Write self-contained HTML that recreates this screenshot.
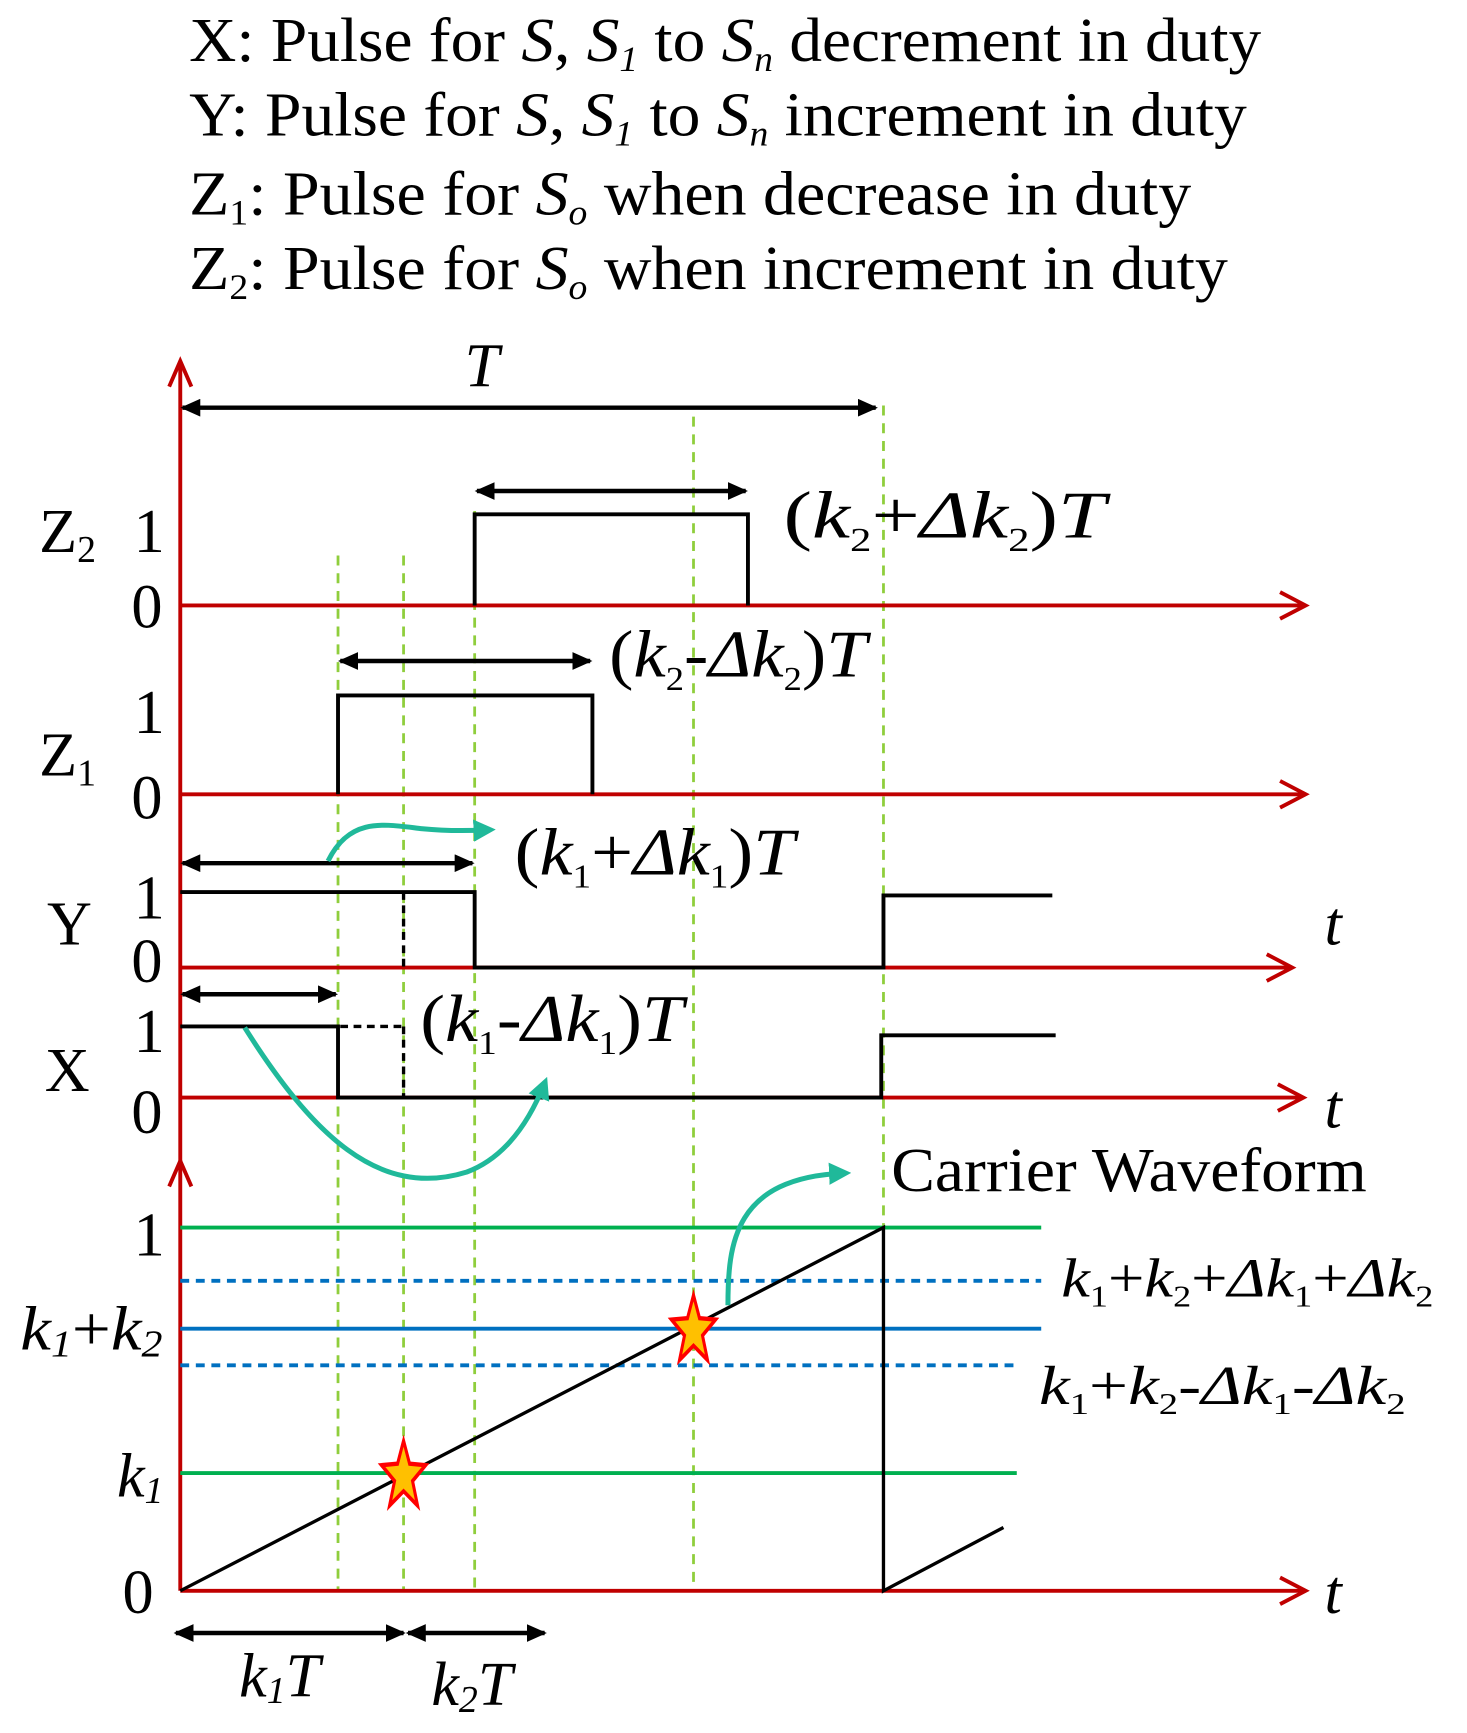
<!DOCTYPE html>
<html><head><meta charset="utf-8"><style>html,body{margin:0;padding:0;background:#fff}svg{display:block}text{font-family:"Liberation Serif",serif;fill:#000}</style></head><body>
<svg width="1467" height="1733" viewBox="0 0 1320 1560" xmlns="http://www.w3.org/2000/svg">
<defs>
<marker id="ab" markerWidth="18" markerHeight="16" refX="16" refY="8" orient="auto-start-reverse" markerUnits="userSpaceOnUse" viewBox="0 0 18 16"><path d="M0,0 L18,8 L0,16 Z" fill="#000"/></marker>
<marker id="at" markerWidth="20" markerHeight="20" refX="14" refY="10" orient="auto" markerUnits="userSpaceOnUse" viewBox="0 0 20 20"><path d="M0,0 L20,10 L0,20 Z" fill="#20b99a"/></marker>
</defs>
<g font-size="56" lengthAdjust="spacingAndGlyphs">
<text x="170" y="55" textLength="965" lengthAdjust="spacingAndGlyphs">X: Pulse for <tspan font-style="italic">S</tspan>, <tspan font-style="italic">S<tspan font-size="32" dy="9">1</tspan></tspan><tspan dy="-9"> to </tspan><tspan font-style="italic">S<tspan font-size="32" dy="9">n</tspan></tspan><tspan dy="-9"> decrement in duty</tspan></text>
<text x="170" y="122" textLength="952" lengthAdjust="spacingAndGlyphs">Y: Pulse for <tspan font-style="italic">S</tspan>, <tspan font-style="italic">S<tspan font-size="32" dy="9">1</tspan></tspan><tspan dy="-9"> to </tspan><tspan font-style="italic">S<tspan font-size="32" dy="9">n</tspan></tspan><tspan dy="-9"> increment in duty</tspan></text>
<text x="170" y="193" textLength="902" lengthAdjust="spacingAndGlyphs">Z<tspan font-size="32" dy="9">1</tspan><tspan dy="-9">: Pulse for </tspan><tspan font-style="italic">S<tspan font-size="32" dy="9">o</tspan></tspan><tspan dy="-9"> when decrease in duty</tspan></text>
<text x="170" y="260" textLength="935" lengthAdjust="spacingAndGlyphs">Z<tspan font-size="32" dy="9">2</tspan><tspan dy="-9">: Pulse for </tspan><tspan font-style="italic">S<tspan font-size="32" dy="9">o</tspan></tspan><tspan dy="-9"> when increment in duty</tspan></text>
</g>
<g stroke="#8fce3c" stroke-width="2.5" stroke-dasharray="9,7">
<line x1="304" y1="500" x2="304" y2="1432"/><line x1="363" y1="500" x2="363" y2="1432"/>
<line x1="427" y1="460" x2="427" y2="1432"/><line x1="624" y1="375" x2="624" y2="1432"/>
<line x1="795" y1="365" x2="795" y2="1432"/>
</g>
<g stroke="#c00000" stroke-width="3.5" fill="none">
<line x1="162" y1="327" x2="162" y2="1432"/>
<path d="M152,348 L162,325 L172,348"/><path d="M152,1068 L162,1045 L172,1068"/>
<line x1="162" y1="545" x2="1175" y2="545"/><path d="M1152,533 L1175,545 L1152,557"/>
<line x1="162" y1="715" x2="1175" y2="715"/><path d="M1152,703 L1175,715 L1152,727"/>
<line x1="162" y1="871" x2="1163" y2="871"/><path d="M1140,859 L1163,871 L1140,883"/>
<line x1="162" y1="988" x2="1173" y2="988"/><path d="M1150,976 L1173,988 L1150,1000"/>
<line x1="162" y1="1432" x2="1175" y2="1432"/><path d="M1152,1420 L1175,1432 L1152,1444"/>
</g>
<g stroke="#000" stroke-width="4" marker-start="url(#ab)" marker-end="url(#ab)">
<line x1="164" y1="367" x2="788" y2="367"/>
<line x1="429" y1="442" x2="671" y2="442"/>
<line x1="306" y1="595" x2="531" y2="595"/>
<line x1="164" y1="777" x2="425" y2="777"/>
<line x1="164" y1="895" x2="302" y2="895"/>
<line x1="158" y1="1470" x2="363" y2="1470"/>
<line x1="367" y1="1470" x2="490" y2="1470"/>
</g>
<g stroke="#000" stroke-width="3.5" fill="none">
<path d="M427,545 V463 H673 V545"/>
<path d="M304,715 V626 H533 V715"/>
<path d="M162,803 H427 V871 H795 V806 H947"/>
<path d="M162,924 H304 V988 H793 V932 H950"/>
</g>
<g stroke="#000" stroke-width="3" stroke-dasharray="7,5">
<line x1="363" y1="803" x2="363" y2="871"/><line x1="363" y1="924" x2="363" y2="988"/>
<line x1="306" y1="924" x2="363" y2="924"/>
</g>
<g stroke-width="3.5">
<line x1="162" y1="1105" x2="937" y2="1105" stroke="#00b050"/>
<line x1="162" y1="1326" x2="915" y2="1326" stroke="#00b050"/>
<line x1="162" y1="1196" x2="937" y2="1196" stroke="#0070c0"/>
<line x1="162" y1="1153" x2="937" y2="1153" stroke="#0070c0" stroke-dasharray="8,6"/>
<line x1="162" y1="1229" x2="915" y2="1229" stroke="#0070c0" stroke-dasharray="8,6"/>
</g>
<g stroke="#000" stroke-width="3" fill="none">
<path d="M162,1432 L795,1105 V1432 L903,1375"/>
</g>
<g fill="#ffc000" stroke="#ff0000" stroke-width="3">
<path transform="translate(363,1328) scale(0.9,1.3)" d="M0,-24 L6,-8 L22,-7 L9,4 L14,21 L0,11 L-14,21 L-9,4 L-22,-7 L-6,-8 Z"/>
<path transform="translate(624,1197) scale(0.9,1.3)" d="M0,-24 L6,-8 L22,-7 L9,4 L14,21 L0,11 L-14,21 L-9,4 L-22,-7 L-6,-8 Z"/>
</g>
<g stroke="#20b99a" stroke-width="4.5" fill="none" marker-end="url(#at)">
<path d="M295,775 C315,735 345,742 380,746 C400,748 420,748 440,747"/>
<path d="M220,925 C280,1020 340,1080 420,1055 C460,1040 480,1000 490,975"/>
<path d="M655,1175 C655,1120 660,1060 760,1056"/>
</g>
<g font-size="56">
<text x="35" y="497">Z<tspan font-size="34" dy="9">2</tspan></text>
<text x="35" y="698">Z<tspan font-size="34" dy="9">1</tspan></text>
<text x="42" y="850">Y</text>
<text x="40" y="982">X</text>
<text x="120" y="497">1</text><text x="118" y="565">0</text>
<text x="120" y="660">1</text><text x="118" y="737">0</text>
<text x="120" y="827">1</text><text x="118" y="884">0</text>
<text x="120" y="947">1</text><text x="118" y="1020">0</text>
<text x="120" y="1130">1</text><text x="110" y="1452">0</text>
<text x="1192" y="850" font-style="italic">t</text>
<text x="1192" y="1015" font-style="italic">t</text>
<text x="1192" y="1452" font-style="italic">t</text>
<text x="418" y="348" font-style="italic">T</text>
<text x="18" y="1215" font-style="italic" textLength="128" lengthAdjust="spacingAndGlyphs">k<tspan font-size="34" dy="6">1</tspan><tspan dy="-6" font-style="normal">+</tspan>k<tspan font-size="34" dy="6">2</tspan></text>
<text x="105" y="1347" font-style="italic">k<tspan font-size="34" dy="6">1</tspan></text>
<text x="215" y="1527" font-style="italic">k<tspan font-size="34" dy="6">1</tspan><tspan dy="-6">T</tspan></text>
<text x="388" y="1535" font-style="italic">k<tspan font-size="34" dy="6">2</tspan><tspan dy="-6">T</tspan></text>
<text x="802" y="1072" textLength="428" lengthAdjust="spacingAndGlyphs">Carrier Waveform</text>
</g>
<g font-size="60">
<text x="705" y="484" textLength="290" lengthAdjust="spacingAndGlyphs">(<tspan font-style="italic">k</tspan><tspan font-size="30" dy="12">2</tspan><tspan dy="-12">+</tspan><tspan font-style="italic">Δk</tspan><tspan font-size="30" dy="12">2</tspan><tspan dy="-12">)</tspan><tspan font-style="italic">T</tspan></text>
<text x="548" y="609" textLength="232" lengthAdjust="spacingAndGlyphs">(<tspan font-style="italic">k</tspan><tspan font-size="30" dy="12">2</tspan><tspan dy="-12">-</tspan><tspan font-style="italic">Δk</tspan><tspan font-size="30" dy="12">2</tspan><tspan dy="-12">)</tspan><tspan font-style="italic">T</tspan></text>
<text x="463" y="787" textLength="252" lengthAdjust="spacingAndGlyphs">(<tspan font-style="italic">k</tspan><tspan font-size="30" dy="12">1</tspan><tspan dy="-12">+</tspan><tspan font-style="italic">Δk</tspan><tspan font-size="30" dy="12">1</tspan><tspan dy="-12">)</tspan><tspan font-style="italic">T</tspan></text>
<text x="378" y="937" textLength="237" lengthAdjust="spacingAndGlyphs">(<tspan font-style="italic">k</tspan><tspan font-size="30" dy="12">1</tspan><tspan dy="-12">-</tspan><tspan font-style="italic">Δk</tspan><tspan font-size="30" dy="12">1</tspan><tspan dy="-12">)</tspan><tspan font-style="italic">T</tspan></text>
</g>
<g font-size="50">
<text x="955" y="1167" textLength="335" lengthAdjust="spacingAndGlyphs"><tspan font-style="italic">k</tspan><tspan font-size="28" dy="9">1</tspan><tspan dy="-9">+</tspan><tspan font-style="italic">k</tspan><tspan font-size="28" dy="9">2</tspan><tspan dy="-9">+</tspan><tspan font-style="italic">Δk</tspan><tspan font-size="28" dy="9">1</tspan><tspan dy="-9">+</tspan><tspan font-style="italic">Δk</tspan><tspan font-size="28" dy="9">2</tspan></text>
<text x="935" y="1264" textLength="330" lengthAdjust="spacingAndGlyphs"><tspan font-style="italic">k</tspan><tspan font-size="28" dy="9">1</tspan><tspan dy="-9">+</tspan><tspan font-style="italic">k</tspan><tspan font-size="28" dy="9">2</tspan><tspan dy="-9">-</tspan><tspan font-style="italic">Δk</tspan><tspan font-size="28" dy="9">1</tspan><tspan dy="-9">-</tspan><tspan font-style="italic">Δk</tspan><tspan font-size="28" dy="9">2</tspan></text>
</g>
</svg>
</body></html>
